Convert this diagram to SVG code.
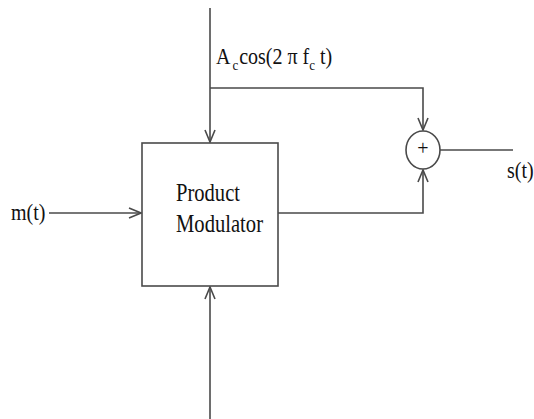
<svg xmlns="http://www.w3.org/2000/svg" width="534" height="419" viewBox="0 0 534 419">
<style>
  .ln { fill: none; stroke: #4a4a4a; stroke-width: 1.6; }
  .lbl { font-family: "Liberation Serif", "Times New Roman", serif; font-size: 20px; fill: #111; }
  .sub { font-size: 13px; }
</style>
<defs>
  <marker id="arr" markerUnits="userSpaceOnUse" markerWidth="14" markerHeight="14" refX="13" refY="7" orient="auto">
    <path d="M1,2 L13,7 L1,12" fill="none" stroke="#4a4a4a" stroke-width="1.6"/>
  </marker>
</defs>
<rect width="534" height="419" fill="#fff"/>

<g id="connectors">
  <!-- carrier input down into modulator -->
  <path class="ln" d="M210,8 L210,142" marker-end="url(#arr)"/>
  <!-- carrier branch to adder -->
  <path class="ln" d="M210,88 L423,88 L423,130" marker-end="url(#arr)"/>
  <!-- m(t) into modulator -->
  <path class="ln" d="M49,213 L141,213" marker-end="url(#arr)"/>
  <!-- modulator output to adder -->
  <path class="ln" d="M278,213 L423,213 L423,170" marker-end="url(#arr)"/>
  <!-- bottom input up into modulator -->
  <path class="ln" d="M210,419 L210,287" marker-end="url(#arr)"/>
  <!-- adder output -->
  <path class="ln" d="M440,150 L513,150"/>
</g>

<g id="modulator">
  <rect class="ln" x="142" y="143" width="136" height="143"/>
  <text class="lbl" transform="translate(176,201) scale(1,1.3)" textLength="64" lengthAdjust="spacingAndGlyphs">Product</text>
  <text class="lbl" transform="translate(176,232) scale(1,1.3)" textLength="87" lengthAdjust="spacingAndGlyphs">Modulator</text>
</g>

<g id="adder">
  <ellipse class="ln" cx="423" cy="150" rx="17" ry="19"/>
  <text class="lbl" x="423" y="155" text-anchor="middle" font-size="14">+</text>
</g>

<g id="carrier-label">
  <text class="lbl" transform="translate(216,64) scale(1,1.15)">A<tspan class="sub" dx="2" dy="5">c</tspan><tspan dx="1" dy="-5">cos(2 π f</tspan><tspan class="sub" dy="5">c</tspan><tspan dy="-5"> t)</tspan></text>
</g>

<g id="m-label">
  <text class="lbl" transform="translate(11,220) scale(1,1.15)">m(t)</text>
</g>

<g id="s-label">
  <text class="lbl" transform="translate(507,178) scale(1,1.15)">s(t)</text>
</g>
</svg>
